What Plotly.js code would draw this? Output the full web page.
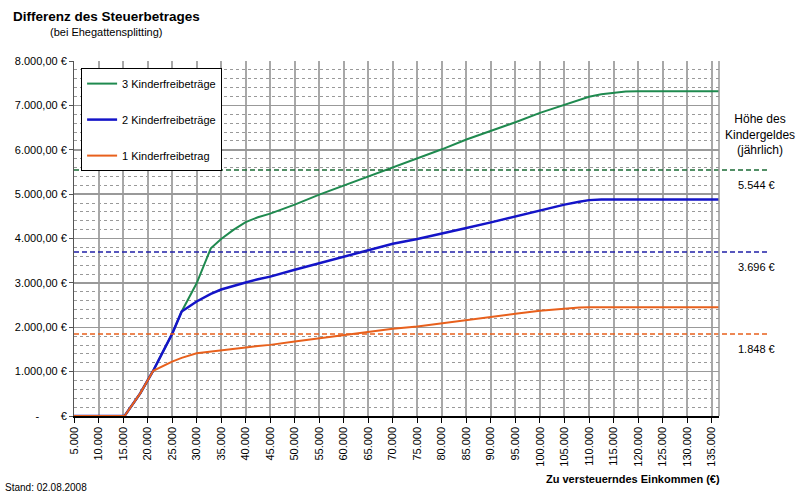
<!DOCTYPE html>
<html>
<head>
<meta charset="utf-8">
<script src="https://cdn.plot.ly/plotly-3.0.1.min.js"></script>
<style>html,body{margin:0;padding:0;background:#fff;}#chart{width:800px;height:494px;}</style>
</head>
<body>
<div id="chart"></div>
<script>
// Zu versteuerndes Einkommen (€)
const income = [5000, 10000, 15300, 18500, 21150, 25000, 26950, 30000, 32900, 35000, 37500, 40000, 42500, 45000, 50000, 55000, 60000, 65000, 70000, 75000, 80000, 85000, 90000, 95000, 100000, 105000, 108000, 110000, 112500, 115000, 117500, 120000, 125000, 130000, 136500];
// Differenz des Steuerbetrages (€)
const kfb3 = [0, 0, 0, 510, 1020, 1850, 2354, 2990, 3780, 3990, 4195, 4370, 4480, 4560, 4763, 4989, 5192, 5402, 5614, 5817, 6010, 6230, 6418, 6621, 6832, 7020, 7130, 7194, 7250, 7284, 7310, 7320, 7320, 7320, 7320];
const kfb2 = [0, 0, 0, 510, 1020, 1850, 2354, 2580, 2750, 2850, 2935, 3010, 3080, 3140, 3296, 3447, 3597, 3747, 3883, 3990, 4105, 4236, 4363, 4499, 4634, 4763, 4830, 4865, 4880, 4880, 4880, 4880, 4880, 4880, 4880];
const kfb1 = [0, 0, 0, 510, 1020, 1226, 1310, 1412, 1455, 1482, 1512, 1545, 1575, 1603, 1677, 1753, 1828, 1903, 1964, 2018, 2092, 2152, 2227, 2302, 2370, 2422, 2445, 2450, 2450, 2450, 2450, 2450, 2450, 2450, 2450];
const seriesNames = ["3 Kinderfreibeträge", "2 Kinderfreibeträge", "1 Kinderfreibetrag"];
// Kindergeld (jährlich)
const kindergeld = [5544, 3696, 1848];
const kindergeldLabels = ["5.544 €", "3.696 €", "1.848 €"];
const yTickVals = [0, 1000, 2000, 3000, 4000, 5000, 6000, 7000, 8000];
const yTickText = ["-\u00a0\u00a0\u00a0\u00a0\u00a0\u00a0\u00a0€", "1.000,00 €", "2.000,00 €", "3.000,00 €", "4.000,00 €", "5.000,00 €", "6.000,00 €", "7.000,00 €", "8.000,00 €"];

const colors = ["#1f8a4f", "#1414c8", "#e8601c"];
const dashColors = ["#1a6b35", "#2020a8", "#e8601c"];
const FONT = "Liberation Sans, Arial, sans-serif";

const ys = [kfb3, kfb2, kfb1];
const traces = ys.map((y, i) => ({
  x: income, y: y, type: "scatter", mode: "lines", name: seriesNames[i],
  legendgroup: "g" + i,
  line: {color: colors[i], width: i === 1 ? 2.5 : 2},
  hoverinfo: "skip"
}));

const shapes = kindergeld.map((v, i) => ({
  type: "line", xref: "paper", yref: "y", x0: 0, x1: 1.079, y0: v, y1: v,
  line: {color: dashColors[i], width: 1.5, dash: "5px,3px"}
}));
shapes.push({type: "line", xref: "paper", yref: "paper", x0: 1, x1: 1, y0: 0, y1: 1, line: {color: "#999", width: 1.5}});

const annotations = kindergeldLabels.map((t, i) => ({
  text: t, xref: "paper", yref: "y", x: (736 - 74) / 645, y: kindergeld[i], yshift: -15,
  xanchor: "left", yanchor: "middle", showarrow: false, font: {size: 11, color: "#000", family: FONT}
}));
annotations.push(
  {text: "Höhe des<br>Kindergeldes<br>(jährlich)", xref: "paper", yref: "paper", x: (760 - 74) / 645, y: (416 - 134) / 355,
   xanchor: "center", yanchor: "middle", align: "center", showarrow: false,
   font: {size: 12, color: "#000", family: FONT}},
  {text: "(bei Ehegattensplitting)", xref: "paper", yref: "paper", x: (48 - 74) / 645, y: (416 - 32) / 355,
   xanchor: "left", yanchor: "middle", showarrow: false, font: {size: 11, color: "#000", family: FONT}},
  {text: "<b>Zu versteuerndes Einkommen (€)</b>", xref: "paper", yref: "paper", x: (722 - 74) / 645, y: (416 - 479) / 355,
   xanchor: "right", yanchor: "middle", showarrow: false, font: {size: 11, color: "#000", family: FONT}},
  {text: "Stand: 02.08.2008", xref: "paper", yref: "paper", x: (3 - 74) / 645, y: (416 - 487) / 355,
   xanchor: "left", yanchor: "middle", showarrow: false, font: {size: 10, color: "#000", family: FONT}}
);

const layout = {
  width: 800, height: 494,
  margin: {l: 74, r: 81, t: 61, b: 78},
  paper_bgcolor: "#fff", plot_bgcolor: "#fff",
  separators: ",.",
  font: {family: FONT, size: 11, color: "#000"},
  title: {text: "<b>Differenz des Steuerbetrages</b>", x: 13 / 800, xanchor: "left", y: 1 - 16 / 494, yanchor: "middle",
          font: {size: 13.5, family: FONT, color: "#000"}},
  showlegend: true,
  legend: {x: 0.011, y: 0.98, xanchor: "left", yanchor: "top", bgcolor: "#fff", bordercolor: "#000", borderwidth: 1,
           font: {size: 11, family: FONT, color: "#000"}, tracegroupgap: 17, traceorder: "grouped", itemwidth: 30},
  xaxis: {
    range: [5000, 136500], tick0: 5000, dtick: 5000, tickformat: ",d", tickangle: -90,
    showgrid: true, gridcolor: "#a8a8a8", gridwidth: 2,
    showline: true, linecolor: "#000", linewidth: 1.5,
    ticks: "outside", ticklen: 5, tickcolor: "#000", zeroline: false,
    tickfont: {size: 11, family: FONT, color: "#000"}
  },
  yaxis: {
    range: [0, 8000], tickvals: yTickVals, ticktext: yTickText,
    showgrid: true, gridcolor: "#999", gridwidth: 1.5,
    minor: {dtick: 200, showgrid: true, gridcolor: "#999", gridwidth: 1, griddash: "dot", ticks: ""},
    showline: true, linecolor: "#555", linewidth: 1,
    ticks: "outside", ticklen: 4, tickcolor: "#555", zeroline: false,
    tickfont: {size: 11, family: FONT, color: "#000"}
  },
  shapes: shapes,
  annotations: annotations
};

Plotly.newPlot("chart", traces, layout, {displayModeBar: false, staticPlot: true});
</script>
</body>
</html>
